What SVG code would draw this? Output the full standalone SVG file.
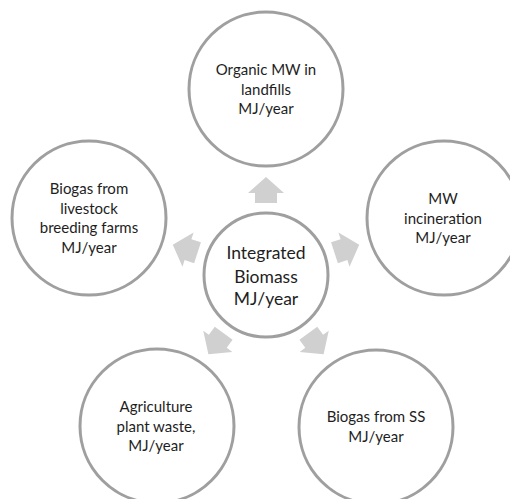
<svg xmlns="http://www.w3.org/2000/svg" width="510" height="499" viewBox="0 0 510 499">
<style>
.node{fill:#ffffff;stroke:#9f9f9f;stroke-width:3}
.arrow{fill:#d0d0d0;stroke:none}
.t{font-family:Lato,"Liberation Sans",sans-serif;font-size:15px;fill:#1e1e1e;text-anchor:middle}
.tc{font-family:Lato,"Liberation Sans",sans-serif;font-size:17.5px;fill:#1e1e1e;text-anchor:middle}
</style>
<defs>
<polygon id="arr" points="0,-98 18,-82 11,-82 11,-72 -11,-72 -11,-82 -18,-82"/>
</defs>
<rect width="510" height="499" fill="#ffffff"/>
<g id="connectors">
<use href="#arr" class="arrow" transform="translate(266,275)"/>
<use href="#arr" class="arrow" transform="translate(266,275) rotate(72)"/>
<use href="#arr" class="arrow" transform="translate(266,275) rotate(144)"/>
<use href="#arr" class="arrow" transform="translate(266,275) rotate(216)"/>
<use href="#arr" class="arrow" transform="translate(266,275) rotate(288)"/>
</g>
<g id="center">
<circle class="node" cx="266" cy="275" r="62"/>
<text class="tc" x="266" y="259">Integrated</text>
<text class="tc" x="266" y="283">Biomass</text>
<text class="tc" x="266" y="305">MJ/year</text>
</g>
<g id="top">
<circle class="node" cx="266" cy="89" r="77"/>
<text class="t" x="266" y="75">Organic MW in</text>
<text class="t" x="266" y="94.5">landfills</text>
<text class="t" x="266" y="114">MJ/year</text>
</g>
<g id="right">
<circle class="node" cx="444" cy="218" r="77"/>
<text class="t" x="443" y="204">MW</text>
<text class="t" x="443" y="223.5">incineration</text>
<text class="t" x="443" y="243">MJ/year</text>
</g>
<g id="bottom-right">
<circle class="node" cx="376" cy="427" r="77"/>
<text class="t" x="376" y="422">Biogas from SS</text>
<text class="t" x="376" y="442">MJ/year</text>
</g>
<g id="bottom-left">
<circle class="node" cx="157" cy="426" r="77"/>
<text class="t" x="156" y="412">Agriculture</text>
<text class="t" x="156" y="432">plant waste,</text>
<text class="t" x="156" y="451">MJ/year</text>
</g>
<g id="left">
<circle class="node" cx="89" cy="218" r="77"/>
<text class="t" x="89" y="194">Biogas from</text>
<text class="t" x="89" y="214">livestock</text>
<text class="t" x="89" y="233">breeding farms</text>
<text class="t" x="89" y="253">MJ/year</text>
</g>
</svg>
